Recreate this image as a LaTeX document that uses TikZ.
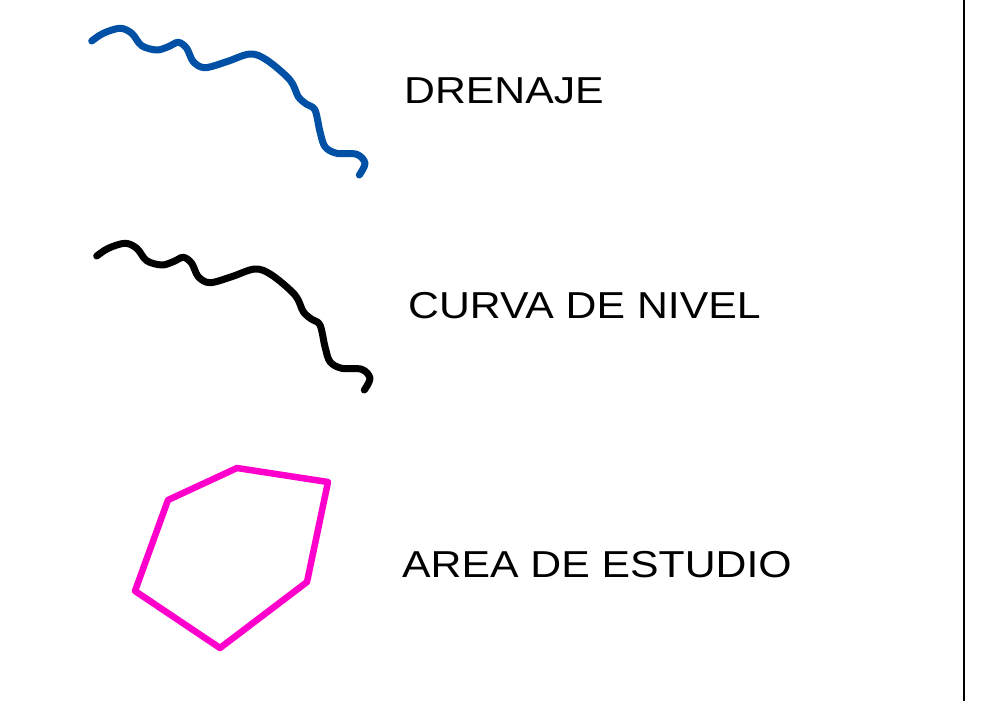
\documentclass[tikz,border=0pt]{standalone}
\usepackage{fontspec}
\setmainfont{Liberation Sans}
\definecolor{drain}{RGB}{0,81,165}
\definecolor{areac}{RGB}{255,0,204}
\begin{document}
\begin{tikzpicture}[x=1pt,y=-1pt,
  wavy/.style={line width=7pt,line cap=round,line join=round},
  lbl/.style={anchor=base west,inner sep=0pt,font=\fontsize{37.5}{40}\selectfont}]
\useasboundingbox (0,0) rectangle (991,701);
\fill[white] (0,0) rectangle (991,701);
\def\riverpath{plot[smooth,tension=0.55] coordinates {(91.7,41) (103.3,33.3) (120,28.3) (131.7,33.3) (141.7,45.7) (156.7,50) (168.3,46.7) (178.3,42.3) (186.7,48.3) (193.3,61.7) (205,67.7) (226.7,61.7) (250,54) (266.7,60) (290,80) (298.3,96.7) (306.7,104.3) (315,110) (320,131.7) (325,146.7) (336.7,153.3) (356.7,154.3) (365,163.3) (359.3,175)}}
\draw[wavy,drain] \riverpath;
\begin{scope}[shift={(5,215)}]
\draw[wavy,black] \riverpath;
\end{scope}
\draw[line width=6.5pt,line join=round,areac]
  (168,500) -- (237,468) -- (328,482) -- (307,582) -- (220,648) -- (135,591) -- cycle;
\node[lbl] (t1) at (404,103) {\scalebox{1.14}[1]{DRENAJE}};
\node[lbl] (t2) at (408,318) {\scalebox{1.14}[1]{CURVA DE NIVEL}};
\node[lbl] (t3) at (402,577) {\scalebox{1.14}[1]{AREA DE ESTUDIO}};
\draw[line width=2.5pt] (964,0) -- (964,701);
\end{tikzpicture}
\end{document}
